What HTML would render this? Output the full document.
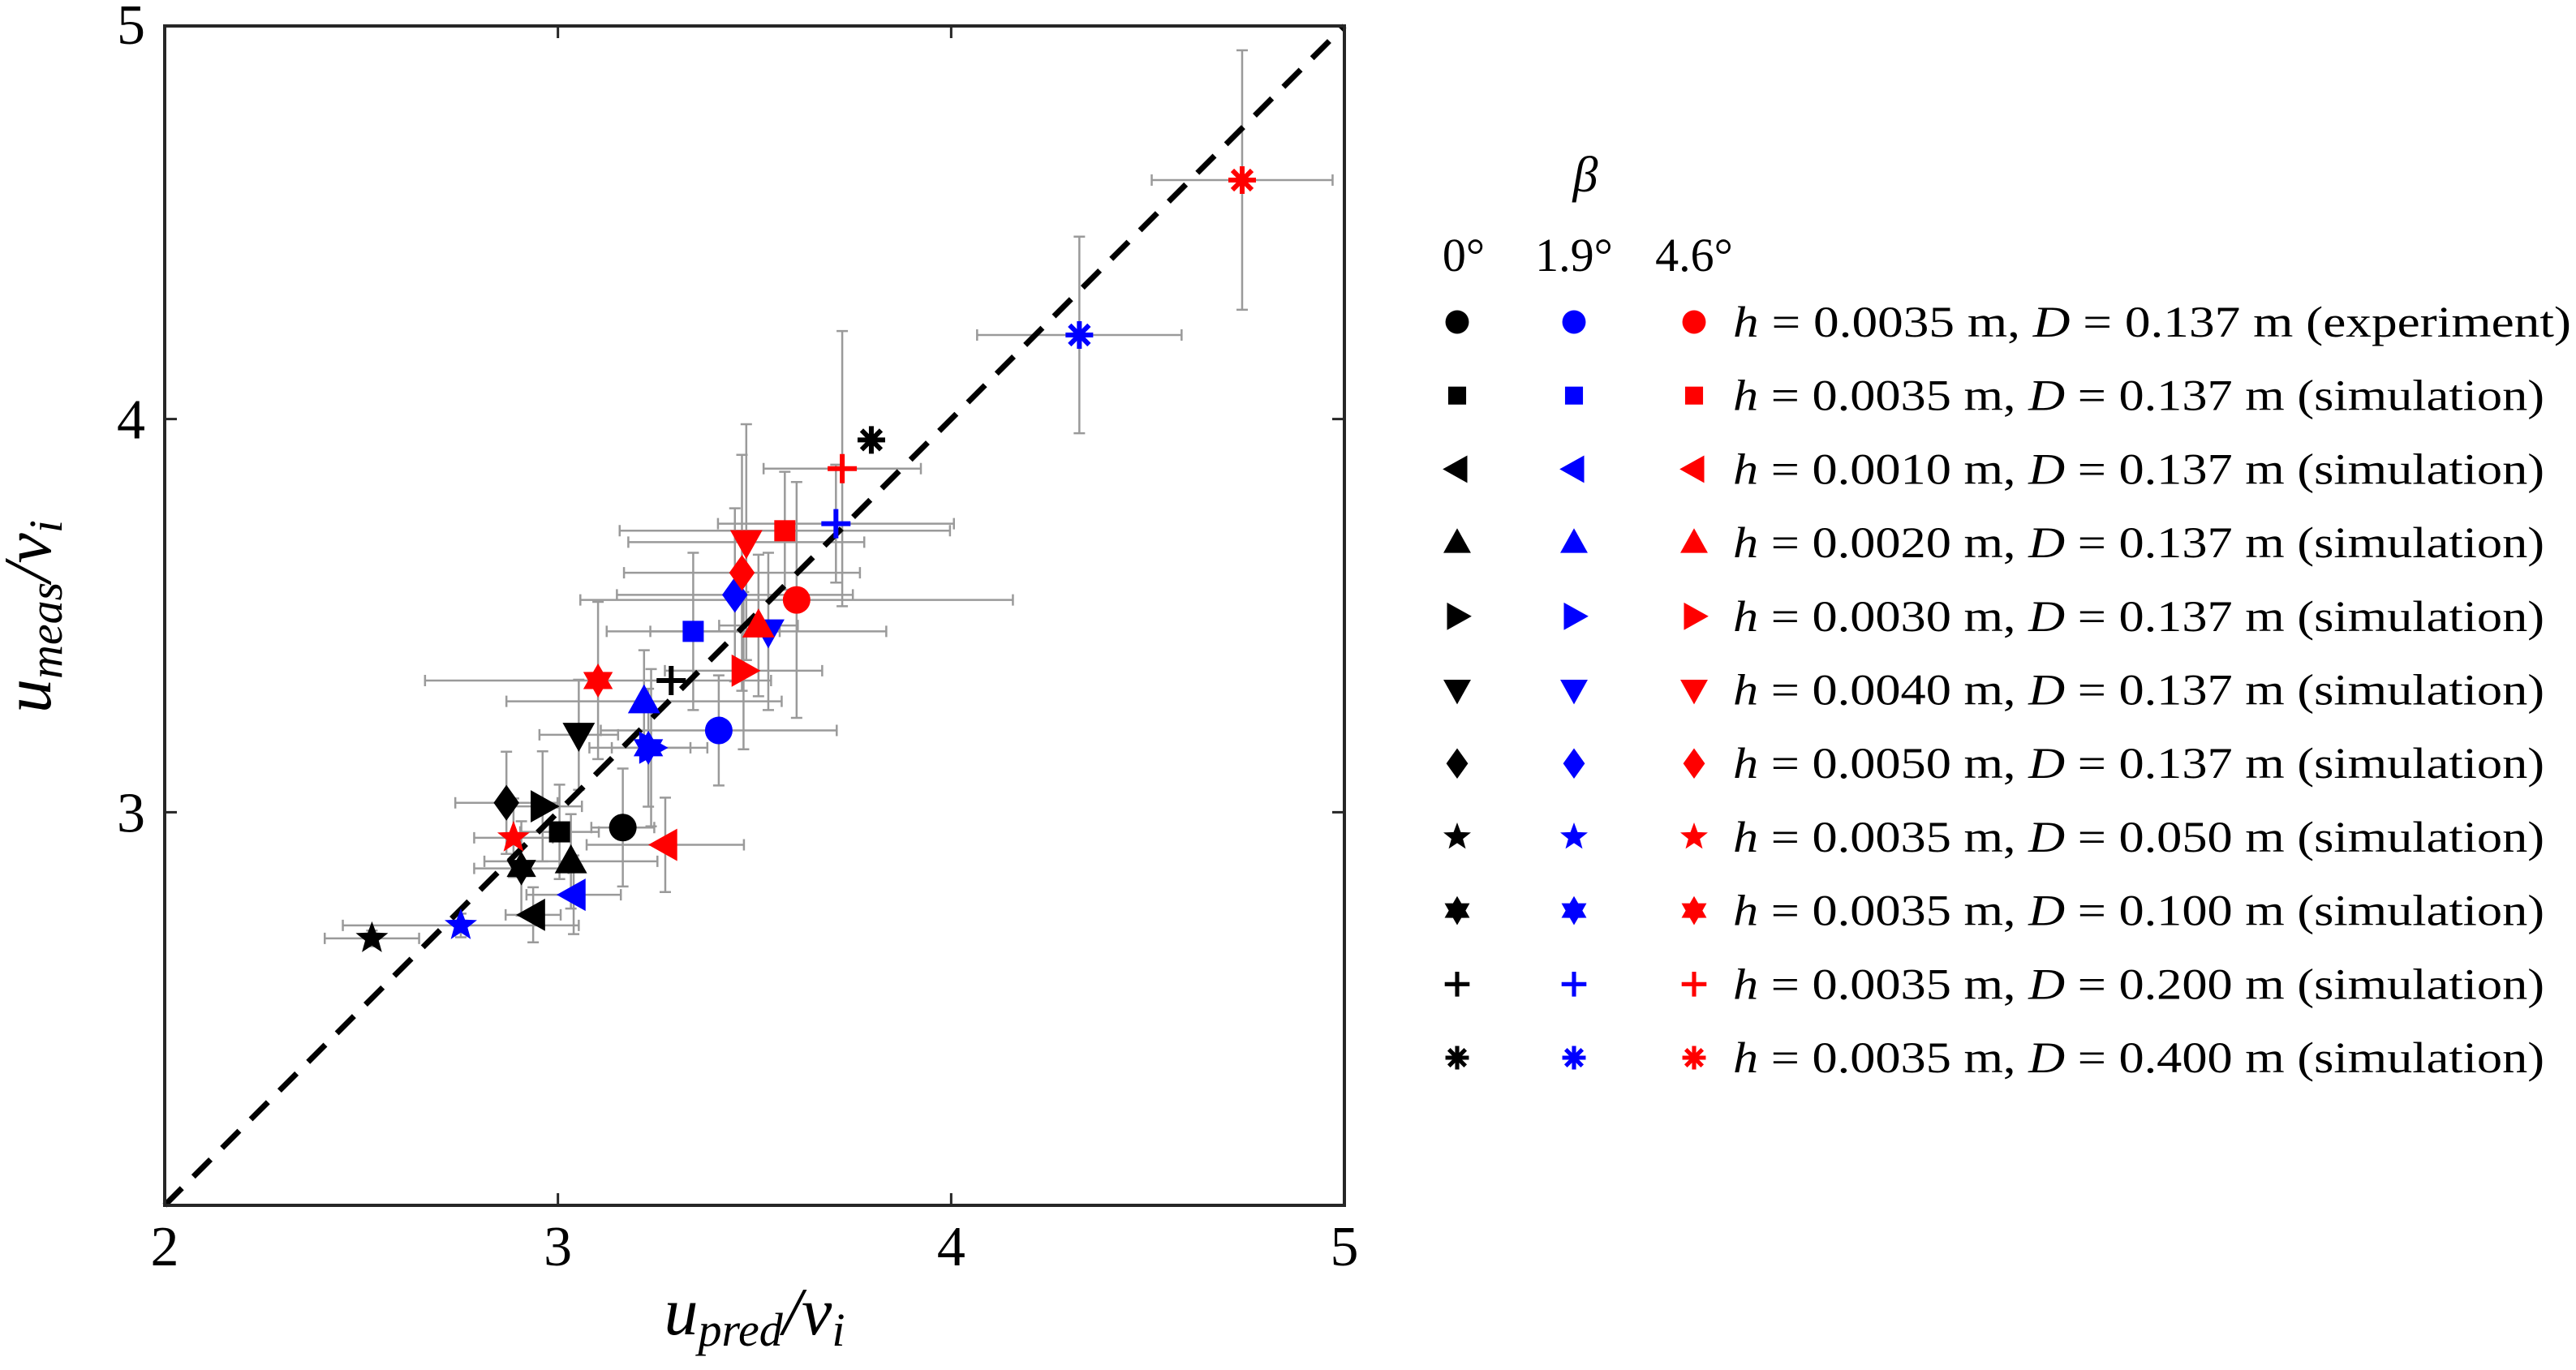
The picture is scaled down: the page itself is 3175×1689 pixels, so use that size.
<!DOCTYPE html>
<html><head><meta charset="utf-8"><style>
html,body{margin:0;padding:0;background:#fff;}
svg{display:block;font-family:"Liberation Serif","Times New Roman",serif;}
text{font-family:"Liberation Serif","Times New Roman",serif;}
</style></head><body>
<svg id="chart" width="3175" height="1689" viewBox="0 0 3175 1689" xmlns="http://www.w3.org/2000/svg" font-family="Liberation Serif, serif">
<g id="plot"></g>
<g id="legend"></g>
</svg>
<script>
// ---- data ----
const shapes = ['circle','square','left','up','right','down','diamond','star','hexagram','plus','asterisk'];
const colors = ['#000000','#0000ff','#ff0000'];
const betaLabels = ['0°','1.9°','4.6°'];
const legendH = ['0.0035','0.0035','0.0010','0.0020','0.0030','0.0040','0.0050','0.0035','0.0035','0.0035','0.0035'];
const legendD = ['0.137','0.137','0.137','0.137','0.137','0.137','0.137','0.050','0.100','0.200','0.400'];
const legendKind = ['experiment','simulation','simulation','simulation','simulation','simulation','simulation','simulation','simulation','simulation','simulation'];
const xBlack = [3.165,3.004,2.937,3.033,2.961,3.053,2.869,2.527,2.907,3.288,3.797];
const yBlack = [2.961,2.950,2.739,2.875,3.015,3.197,3.024,2.679,2.857,3.335,3.947];
const xBlue  = [3.409,3.344,3.040,3.219,3.237,3.535,3.450,2.753,3.230,3.707,4.326];
const yBlue  = [3.208,3.460,2.790,3.282,3.164,3.460,3.553,2.712,3.164,3.734,4.214];
const xRed   = [3.607,3.577,3.273,3.510,3.472,3.479,3.468,2.887,3.102,3.723,4.740];
const yRed   = [3.540,3.716,2.917,3.475,3.360,3.687,3.609,2.935,3.335,3.874,4.608];
const exBlack = [0.08,0.10,0.07,0.22,0.10,0.10,0.13,0.12,0.12,0.00,0.00];
const eyBlack = [0.15,0.12,0.07,0.12,0.14,0.14,0.13,0.02,0.12,0.00,0.00];
const exBlue  = [0.30,0.22,0.12,0.35,0.10,0.30,0.30,0.30,0.15,0.30,0.26];
const eyBlue  = [0.14,0.20,0.10,0.13,0.20,0.20,0.22,0.03,0.15,0.15,0.25];
const exRed   = [0.55,0.42,0.20,0.10,0.20,0.30,0.30,0.10,0.44,0.20,0.23];
const eyRed   = [0.30,0.15,0.12,0.18,0.20,0.30,0.30,0.10,0.20,0.35,0.33];
const xTicks = [2,3,4,5];
const yTicks = [3,4,5];

const NS='http://www.w3.org/2000/svg';
const FF='Liberation Serif, serif';
const L=203,R=1657,T=32,B=1486;
const sx=v=>L+(v-2)/3*(R-L);
const sy=v=>B-(v-2)/3*(B-T);
const plot=document.getElementById('plot');
const legend=document.getElementById('legend');
function mk(tag,attrs,parent){const e=document.createElementNS(NS,tag);for(const k in attrs)e.setAttribute(k,attrs[k]);if(tag==='text')e.setAttribute('font-family',FF);parent.appendChild(e);return e;}

function marker(shape,cx,cy,col,parent,s){
  const g=mk('g',{},parent);
  let pts;
  if(shape==='circle'){mk('circle',{cx:cx,cy:cy,r:17*s,fill:col},g);}
  else if(shape==='square'){mk('rect',{x:cx-13*s,y:cy-13*s,width:26*s,height:26*s,fill:col},g);}
  else if(['left','right','up','down','diamond','star','hexagram'].includes(shape)){
    const r=21*s;
    if(shape==='up')pts=[[0,-r],[r*0.95,r*0.7],[-r*0.95,r*0.7]];
    if(shape==='down')pts=[[0,r],[r*0.95,-r*0.7],[-r*0.95,-r*0.7]];
    if(shape==='left')pts=[[-r,0],[r*0.7,-r*0.95],[r*0.7,r*0.95]];
    if(shape==='right')pts=[[r,0],[-r*0.7,-r*0.95],[-r*0.7,r*0.95]];
    if(shape==='diamond')pts=[[0,-r*1.05],[r*0.75,0],[0,r*1.05],[-r*0.75,0]];
    if(shape==='star'){pts=[];for(let i=0;i<10;i++){const a=-Math.PI/2+i*Math.PI/5;const rr=i%2?r*0.42:r;pts.push([rr*Math.cos(a),rr*Math.sin(a)]);}}
    if(shape==='hexagram'){pts=[];for(let i=0;i<12;i++){const a=-Math.PI/2+i*Math.PI/6;const rr=i%2?r*0.58:r;pts.push([rr*Math.cos(a),rr*Math.sin(a)]);}}
    mk('polygon',{points:pts.map(p=>(cx+p[0])+','+(cy+p[1])).join(' '),fill:col},g);
  } else if(shape==='plus'){
    const r=18*s;
    mk('path',{d:`M${cx-r},${cy}H${cx+r}M${cx},${cy-r}V${cy+r}`,stroke:col,'stroke-width':6*s,fill:'none'},g);
  } else if(shape==='asterisk'){
    const r=17*s;let d='';
    for(let i=0;i<4;i++){const a=i*Math.PI/4;d+=`M${cx-r*Math.cos(a)},${cy-r*Math.sin(a)}L${cx+r*Math.cos(a)},${cy+r*Math.sin(a)}`;}
    mk('path',{d:d,stroke:col,'stroke-width':6*s,fill:'none'},g);
  }
  return g;
}

const series=[[xBlack,yBlack,exBlack,eyBlack],[xBlue,yBlue,exBlue,eyBlue],[xRed,yRed,exRed,eyRed]];
const eb=mk('g',{},plot);


series.forEach((s,si)=>{
  s[0].forEach((xv,i)=>{
    const x=sx(xv),y=sy(s[1][i]),x1=sx(xv-s[2][i]),x2=sx(xv+s[2][i]),y1=sy(s[1][i]+s[3][i]),y2=sy(s[1][i]-s[3][i]);
    let d='';
    if(s[2][i]>0)d+=`M${x1},${y}H${x2}M${x1},${y-7}V${y+7}M${x2},${y-7}V${y+7}`;
    if(s[3][i]>0)d+=`M${x},${y1}V${y2}M${x-7},${y1}H${x+7}M${x-7},${y2}H${x+7}`;
    if(d)mk('path',{d:d,stroke:'#9a9a9a','stroke-width':2.5,fill:'none'},eb);
  });
});
const diag=mk('line',{x1:sx(2),y1:sy(2),x2:sx(5),y2:sy(5),stroke:'#000','stroke-width':7,'stroke-dasharray':'30,20'},plot);


series.forEach((s,si)=>{
  s[0].forEach((xv,i)=>{
    const g=marker(shapes[i],sx(xv),sy(s[1][i]),colors[si],plot,1);
    
    
  });
});
const frame=mk('rect',{x:L,y:T,width:R-L,height:B-T,fill:'none',stroke:'#262626','stroke-width':4},plot);


[3,4].forEach(t=>{
  mk('path',{d:`M${sx(t)},${B}v-15M${sx(t)},${T}v15M${L},${sy(t)}h15M${R},${sy(t)}h-15`,stroke:'#262626','stroke-width':3},plot);
});
xTicks.forEach(t=>{
  const xt=mk('text',{x:sx(t),y:B+74,'font-size':70,'text-anchor':'middle'},plot);
  xt.textContent=t;
  
  
});
yTicks.forEach(t=>{
  const yt=mk('text',{x:L-24,y:sy(t)+(t===5?22:24),'font-size':70,'text-anchor':'end'},plot);
  yt.textContent=t;
  
  
});
const xtitle=mk('text',{x:930,y:1645,'font-size':84,'text-anchor':'middle','font-style':'italic'},plot);
xtitle.innerHTML='u<tspan font-size="58" dy="14">pred</tspan><tspan dy="-14">/v</tspan><tspan font-size="58" dy="14">i</tspan>';


const ytitle=mk('text',{x:0,y:0,'font-size':84,'text-anchor':'middle','font-style':'italic',transform:'translate(62,760) rotate(-90)'},plot);
ytitle.innerHTML='u<tspan font-size="58" dy="14">meas</tspan><tspan dy="-14">/v</tspan><tspan font-size="58" dy="14">i</tspan>';



const colX=[1796,1940,2088];
const rowY0=397,rowDY=90.7;
const beta=mk('text',{x:1954,y:236,'font-size':62,'font-style':'italic','text-anchor':'middle'},legend);
beta.textContent='β';


betaLabels.forEach((b,i)=>{
  const t=mk('text',{x:colX[i]+(i===0?8:0),y:334,'font-size':58,'text-anchor':'middle'},legend);
  t.textContent=b;
  
  
});
shapes.forEach((sh,i)=>{
  const y=rowY0+i*rowDY;
  const row=mk('g',{},legend);
  
  
  colors.forEach((c,ci)=>marker(sh,colX[ci],y,c,row,0.85));
  const t=mk('text',{x:2136,y:y+18,'font-size':54,textLength:(legendKind[i]==='experiment'?1033:1000),lengthAdjust:'spacingAndGlyphs'},row);
  t.innerHTML='<tspan font-style="italic">h</tspan> = '+legendH[i]+' m, <tspan font-style="italic">D</tspan> = '+legendD[i]+' m ('+legendKind[i]+')';
});
</script>
</body></html>
